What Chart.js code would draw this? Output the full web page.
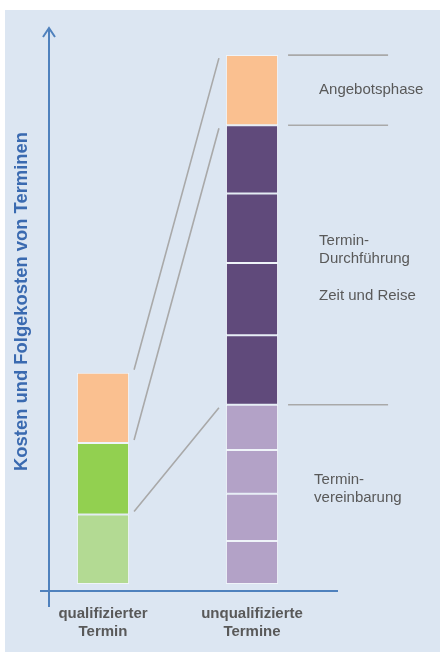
<!DOCTYPE html>
<html>
<head>
<meta charset="utf-8">
<script src="https://cdn.jsdelivr.net/npm/chart.js@4/dist/chart.umd.min.js"></script>
<style>
  html, body { margin: 0; padding: 0; background: #fff; }
  canvas { display: block; }
</style>
</head>
<body>
<canvas id="chart" width="441" height="654"></canvas>
<script>
const categories = [["qualifizierter", "Termin"], ["unqualifizierte", "Termine"]];
const axisTitle = "Kosten und Folgekosten von Terminen";

// qualified appointment: Vereinbarung, Durchführung, Angebot
const qualSegments = [1.0, 1.03, 1.01];
// unqualified appointments, bottom to top
const unqualVereinbarung = [0.62, 0.68, 0.63, 0.65];
const unqualDurchfuehrung = [1.0, 1.04, 1.0, 0.98];
const unqualAngebot = [1.01];

const phaseLabels = {
  angebot: ["Angebotsphase"],
  durchfuehrung: ["Termin-", "Durchführung", "", "Zeit und Reise"],
  vereinbarung: ["Termin-", "vereinbarung"]
};

const colors = {
  peach: "#FAC090",
  green: "#92D050",
  lightGreen: "#B3DA93",
  darkPurple: "#604A7B",
  lightPurple: "#B3A2C7",
  panel: "#DCE6F2",
  axis: "#4F81BD",
  title: "#3A6AB0",
  text: "#595959",
  guide: "#A9A9A9"
};

const datasets = [];
const groups = {}; // name -> dataset indexes, bottom to top
function addSeg(group, value, idx, color) {
  const data = [null, null];
  data[idx] = value;
  datasets.push({
    label: group,
    data: data,
    backgroundColor: color,
    borderColor: "rgba(255,255,255,0.55)",
    borderWidth: 1,
    borderSkipped: false,
    stack: "s"
  });
  (groups[group + idx] = groups[group + idx] || []).push(datasets.length - 1);
}
addSeg("vereinbarung", qualSegments[0], 0, colors.lightGreen);
addSeg("durchfuehrung", qualSegments[1], 0, colors.green);
addSeg("angebot", qualSegments[2], 0, colors.peach);
unqualVereinbarung.forEach(v => addSeg("vereinbarung", v, 1, colors.lightPurple));
unqualDurchfuehrung.forEach(v => addSeg("durchfuehrung", v, 1, colors.darkPurple));
unqualAngebot.forEach(v => addSeg("angebot", v, 1, colors.peach));

function groupBox(chart, key) {
  const ids = groups[key];
  const idx = +key.slice(-1);
  const lo = chart.getDatasetMeta(ids[0]).data[idx];
  const hi = chart.getDatasetMeta(ids[ids.length - 1]).data[idx];
  return { top: hi.y, bottom: lo.base, left: lo.x - lo.width / 2, right: lo.x + lo.width / 2 };
}

const decor = {
  id: "decor",
  beforeDraw(chart) {
    const ctx = chart.ctx;
    ctx.save();
    ctx.fillStyle = "#fff";
    ctx.fillRect(0, 0, chart.width, chart.height);
    ctx.fillStyle = colors.panel;
    ctx.fillRect(5, 10, chart.width - 6, chart.height - 12);
    ctx.restore();
  },
  afterDraw(chart) {
    const ctx = chart.ctx;
    const area = chart.chartArea;
    ctx.save();

    // axes
    const ax = area.left + 20.5;
    ctx.strokeStyle = colors.axis;
    ctx.lineWidth = 2;
    ctx.beginPath();
    ctx.moveTo(ax, area.bottom + 16);
    ctx.lineTo(ax, area.top);
    ctx.moveTo(ax - 6, area.top + 9);
    ctx.lineTo(ax, area.top);
    ctx.lineTo(ax + 6, area.top + 9);
    ctx.moveTo(area.left + 11.5, area.bottom);
    ctx.lineTo(area.right + 11.5, area.bottom);
    ctx.stroke();

    // guide lines
    ctx.strokeStyle = colors.guide;
    ctx.lineWidth = 1.6;
    ["angebot", "durchfuehrung", "vereinbarung"].forEach(g => {
      const a = groupBox(chart, g + "0");
      const b = groupBox(chart, g + "1");
      ctx.beginPath();
      ctx.moveTo(a.right + 5, a.top - 3);
      ctx.lineTo(b.left - 7, b.top + 3);
      ctx.moveTo(b.right + 10, b.top);
      ctx.lineTo(b.right + 110, b.top);
      ctx.stroke();
    });

    // phase labels
    ctx.fillStyle = colors.text;
    ctx.font = "15px 'Liberation Sans', Arial, sans-serif";
    ctx.textBaseline = "middle";
    ctx.textAlign = "left";
    const ang = groupBox(chart, "angebot1");
    ctx.fillText(phaseLabels.angebot[0], ang.right + 41, (ang.top + ang.bottom) / 2);
    const dur = groupBox(chart, "durchfuehrung1");
    const dmid = (dur.top + dur.bottom) / 2;
    phaseLabels.durchfuehrung.forEach((t, i) => {
      ctx.fillText(t, dur.right + 41, dmid - 24 + i * 18.3);
    });
    const ver = groupBox(chart, "vereinbarung1");
    const vmid = (ver.top + ver.bottom) / 2;
    phaseLabels.vereinbarung.forEach((t, i) => {
      ctx.fillText(t, ver.right + 36, vmid - 14.5 + i * 18);
    });

    // y axis title
    ctx.fillStyle = colors.title;
    ctx.font = "bold 18.4px 'Liberation Sans', Arial, sans-serif";
    ctx.textAlign = "center";
    ctx.translate(22, (area.top + area.bottom) / 2 - 8);
    ctx.rotate(-Math.PI / 2);
    ctx.fillText(axisTitle, 0, 0);
    ctx.restore();
  }
};

new Chart(document.getElementById("chart"), {
  type: "bar",
  data: { labels: categories, datasets: datasets },
  options: {
    responsive: false,
    animation: false,
    devicePixelRatio: 1,
    layout: { padding: { left: 28.5, right: 114.5, top: 28, bottom: 0 } },
    plugins: { legend: { display: false }, tooltip: { enabled: false } },
    datasets: { bar: { barPercentage: 0.35, categoryPercentage: 1 } },
    scales: {
      x: {
        stacked: true,
        grid: { display: false, drawTicks: false },
        border: { display: false },
        ticks: {
          color: colors.text,
          font: { family: "'Liberation Sans', Arial, sans-serif", size: 15, weight: "bold", lineHeight: 1.2 },
          padding: 14,
          maxRotation: 0
        },
        afterFit: s => { s.height = 63; }
      },
      y: {
        stacked: true,
        display: false,
        min: -0.1,
        max: 8.0
      }
    }
  },
  plugins: [decor]
});
</script>
</body>
</html>
